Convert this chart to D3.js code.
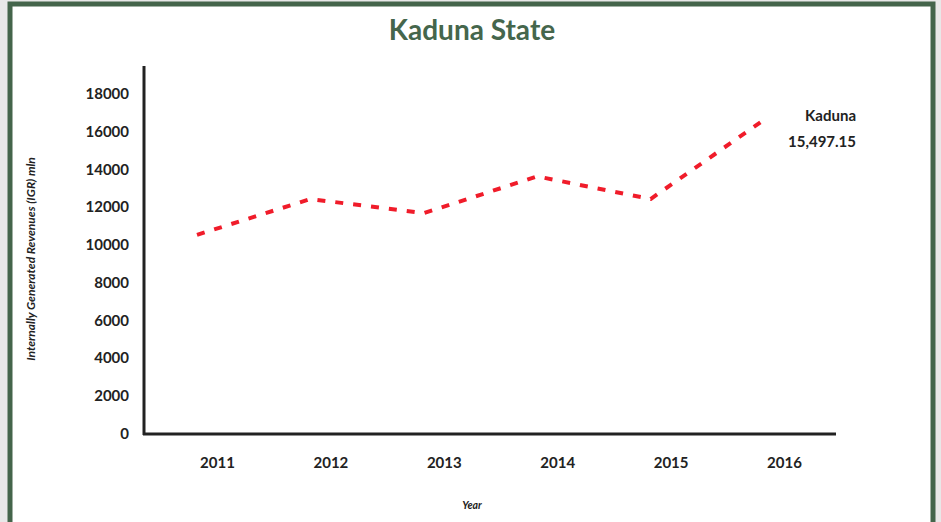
<!DOCTYPE html>
<html lang="en">

<head>
    <meta charset="UTF-8">
    <title>Kaduna State</title>
    <script src="https://d3js.org/d3.v7.min.js"></script>
    <style>
        body {
            margin: 0;
            background: #e8e8e8;
            font-family: Lato, "Open Sans", sans-serif;
        }

        .tick text {
            font-family: Lato, "Open Sans", sans-serif;
            font-weight: bold;
            font-size: 15px;
            fill: #222;
        }
    </style>
</head>

<body>
    <div id="chart"></div>
    <script>
        // data
        const years = ["2011", "2012", "2013", "2014", "2015", "2016"];
        const igr = [10500, 12400, 11650, 13600, 12400, 16600];
        const yTicks = [0, 2000, 4000, 6000, 8000, 10000, 12000, 14000, 16000, 18000];
        const seriesName = "Kaduna";
        const seriesNote = "15,497.15";

        const width = 941, height = 522;
        const svg = d3.select("#chart").append("svg")
            .attr("width", width)
            .attr("height", height)
            .style("display", "block");

        // green framed card
        svg.append("rect")
            .attr("x", 10).attr("y", 4)
            .attr("width", 923).attr("height", 530)
            .attr("fill", "#fff")
            .attr("stroke", "#44654b")
            .attr("stroke-width", 5);

        const x = d3.scalePoint().domain(years).range([197, 764]);
        const y = d3.scaleLinear().domain([0, 19450]).range([433, 66]);

        // title
        svg.append("text")
            .attr("x", 472).attr("y", 40)
            .attr("text-anchor", "middle")
            .attr("font-size", 28)
            .attr("font-weight", "bold")
            .attr("fill", "#45664c")
            .text("Kaduna State");

        // y axis
        const yAxis = svg.append("g")
            .attr("transform", "translate(144,0)")
            .call(d3.axisLeft(y).tickValues(yTicks).tickSize(0).tickPadding(15).tickFormat(d3.format("d")));
        yAxis.attr("font-family", null);
        yAxis.select(".domain").remove();
        yAxis.selectAll(".tick text").attr("dy", "0.35em");

        // x axis, labels sit a bit right of the points
        const xAxis = svg.append("g")
            .attr("transform", "translate(0,434)")
            .call(d3.axisBottom(x).tickSize(0).tickPadding(23));
        xAxis.attr("font-family", null);
        xAxis.select(".domain").remove();
        xAxis.selectAll(".tick text").attr("dx", 20);

        // axis lines
        svg.append("line")
            .attr("x1", 144).attr("x2", 144)
            .attr("y1", 66).attr("y2", 435)
            .attr("stroke", "#222").attr("stroke-width", 3);
        svg.append("line")
            .attr("x1", 143).attr("x2", 836)
            .attr("y1", 434).attr("y2", 434)
            .attr("stroke", "#222").attr("stroke-width", 3);

        // axis titles
        svg.append("text")
            .attr("transform", "translate(35,259) rotate(-90)")
            .attr("text-anchor", "middle")
            .attr("font-size", 12)
            .attr("font-style", "italic")
            .attr("font-weight", "bold")
            .attr("fill", "#222")
            .text("Internally Generated Revenues (IGR)  mln");
        svg.append("text")
            .attr("x", 472).attr("y", 509)
            .attr("text-anchor", "middle")
            .attr("font-size", 10.5)
            .attr("font-style", "italic")
            .attr("font-weight", "bold")
            .attr("fill", "#222")
            .text("Year");

        // the dashed series line
        const line = d3.line()
            .x((d, i) => x(years[i]))
            .y(d => y(d));

        svg.append("path")
            .datum(igr)
            .attr("d", line)
            .attr("fill", "none")
            .attr("stroke", "#f01c2a")
            .attr("stroke-width", 4)
            .attr("stroke-linejoin", "round")
            .attr("stroke-dasharray", "8,10");

        // end label
        svg.append("text")
            .attr("x", 856).attr("y", 121)
            .attr("text-anchor", "end")
            .attr("font-size", 15)
            .attr("font-weight", "bold")
            .attr("fill", "#222")
            .text(seriesName);
        svg.append("text")
            .attr("x", 856).attr("y", 147)
            .attr("text-anchor", "end")
            .attr("font-size", 15)
            .attr("font-weight", "bold")
            .attr("fill", "#222")
            .text(seriesNote);
    </script>
</body>

</html>
